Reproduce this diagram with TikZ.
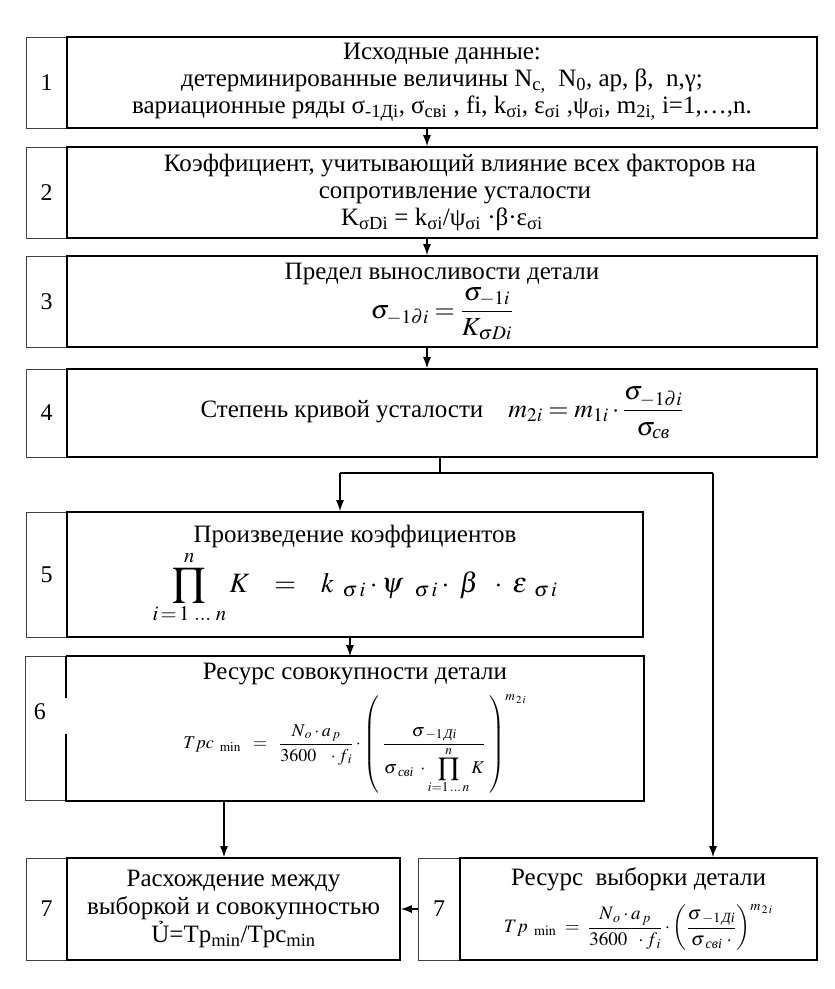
\documentclass[tikz,border=0pt]{standalone}
\usepackage{amsmath}
\usepackage{mathptmx}
\usepackage{fontspec}
\setmainfont{Liberation Serif}
\usetikzlibrary{arrows.meta}
\definecolor{myblack}{rgb}{0.000,0.000,0.000}
\definecolor{mygray}{rgb}{0.250,0.250,0.250}
\tikzstyle{stageline}=[draw=myblack,line width=1.6pt]
\tikzstyle{stage}=[stageline,rectangle,inner sep=0pt,align=center,font=\fontsize{25}{27}\selectfont]
\tikzstyle{numline}=[draw=mygray,line width=0.9pt]
\tikzstyle{num}=[numline,rectangle,inner sep=0pt,font=\fontsize{24}{26}\selectfont]
\tikzstyle{link}=[draw=myblack,line width=1.3pt]
\tikzstyle{flow}=[link,-{Latex[length=11pt,width=8pt]}]

\begin{document}
\begin{tikzpicture}[x=1pt,y=-1pt]
	\useasboundingbox (0,0) rectangle (835,989);
	% number cells
		\node [style=num,minimum width=41pt,minimum height=91pt] (11) at (46.5,82.5) {1};
		\node [style=num,minimum width=41pt,minimum height=91pt] (12) at (46.5,192.5) {2};
		\node [style=num,minimum width=41pt,minimum height=91pt] (13) at (46.5,301.5) {3};
		\node [style=num,minimum width=41pt,minimum height=88pt] (14) at (46.5,413) {4};
		\node [style=num,minimum width=41pt,minimum height=125pt] (15) at (46.5,574.5) {5};
		\node [style=num,draw=none,minimum width=41pt,minimum height=143pt] (16) at (46.5,728.5) {};
		\node [style=num,draw=none] (16a) at (40,712) {6};
		\node [style=num,minimum width=41pt,minimum height=102pt] (17) at (46.5,909) {7};
		\node [style=num,minimum width=42pt,minimum height=102pt] (18) at (439,909) {7};
	% stages
		\node [style=stage,minimum width=750pt,minimum height=91pt] (1) at (442,82.5) {Исходные данные:\\детерминированные величины N\textsubscript{c,}~ N\textsubscript{0}, ap, β,~ n,γ;\\вариационные ряды σ\textsubscript{-1Дi}, σ\textsubscript{свi} , fi, k\textsubscript{σi}, ε\textsubscript{σi} ,ψ\textsubscript{σi}, m\textsubscript{2i,} i=1,…,n.};
		\node [style=stage,minimum width=750pt,minimum height=91pt] (2) at (442,192.5) {\hspace*{36pt}Коэффициент, учитывающий влияние всех факторов на\\\hspace*{26pt}сопротивление усталости\\K\textsubscript{σDi} = k\textsubscript{σi}/ψ\textsubscript{σi} ·β·ε\textsubscript{σi}};
		\node [style=stage,minimum width=750pt,minimum height=91pt] (3) at (442,301.5) {Предел выносливости детали\\[2pt]{\fontsize{26}{28}\selectfont$\displaystyle\sigma_{-1\partial i}=\frac{\sigma_{-1i}}{K_{\sigma Di}}$}};
		\node [style=stage,minimum width=750pt,minimum height=88pt] (4) at (442,413) {Степень кривой усталости\quad {\fontsize{26}{28}\selectfont$\displaystyle m_{2i}=m_{1i}\cdot\frac{\sigma_{-1\partial i}}{\sigma_{\textit{св}}}$}};
		\node [style=stage,minimum width=576pt,minimum height=125pt] (5) at (355,574.5) {Произведение коэффициентов\\[2pt]{\fontsize{28}{30}\selectfont$\displaystyle\prod_{i\,=\,1\;\dots\;n}^{n}K\;\;\;=\;\;\;k_{\;\;\sigma\,i}\cdot\psi_{\;\;\;\sigma\,i}\cdot\;\beta\;\;\cdot\;\varepsilon_{\;\;\sigma\,i}$}};
		\node [style=stage,draw=none,minimum width=576pt,minimum height=143pt] (6) at (355,728.5) {Ресурс совокупности детали\\[9pt]{\fontsize{18}{21}\selectfont$\displaystyle Tpc_{\;\;\mathrm{min}}\;\;=\;\;\frac{N_{\,o}\cdot a_{\,p}}{3600\;\;\;\cdot f_{\,i}}\cdot\left(\;\frac{\;\sigma_{\;-1\,\textit{Дi}}\;}{\sigma_{\;\textit{свi}}\;\cdot\displaystyle\prod_{i=1\,\dots\,n}^{n}K}\;\right)^{m_{\,2\,i}}$}};
		\node [style=stage,font=\fontsize{25}{28}\selectfont,minimum width=333pt,minimum height=102pt] (7) at (233.5,909) {Расхождение между\\выборкой и совокупностью\\Ủ=Tp\textsubscript{min}/Tpc\textsubscript{min}};
		\node [style=stage,minimum width=357pt,minimum height=102pt] (8) at (638.5,909) {Ресурс~ выборки детали\\[13pt]{\fontsize{19}{22}\selectfont$\displaystyle Tp_{\;\;\mathrm{min}}\;=\;\frac{N_{\,o}\cdot a_{\,p}}{3600\;\;\cdot f_{\,i}}\cdot\left(\frac{\sigma_{\;-1\,\textit{Дi}}}{\sigma_{\;\textit{свi}}\;\cdot}\right)^{m_{\,2\,i}}$}};
	% box 6 outline, broken beside its number
		\draw [style=numline] (16.north east) -- (16.north west) -- (16.south west) -- (16.south east);
		\draw [style=stageline] (6.north west) -- (6.north east) -- (6.south east) -- (6.south west) -- ++(0,-67);
		\draw [style=stageline] (6.north west) -- ++(0,42);
	% connectors
		\coordinate (c1) at (427,0);
		\coordinate (c2) at (440,473);
		\coordinate (c3) at (340,473);
		\coordinate (c4) at (713,473);
		\coordinate (c5) at (350,0);
		\coordinate (c6) at (224,0);
		\draw [style=flow] (1.south -| c1) -- (2.north -| c1);
		\draw [style=flow] (2.south -| c1) -- (3.north -| c1);
		\draw [style=flow] (3.south -| c1) -- (4.north -| c1);
		\draw [style=link] (4.south -| c2) -- (c2);
		\draw [style=link] (c3) -- (c4);
		\draw [style=flow] (c3) -- (5.north -| c3);
		\draw [style=flow] (c4) -- (8.north -| c4);
		\draw [style=flow] (5.south -| c5) -- (6.north -| c5);
		\draw [style=flow] (6.south -| c6) -- (7.north -| c6);
		\draw [style=flow] (18.west) -- (7.east);
\end{tikzpicture}
\end{document}
